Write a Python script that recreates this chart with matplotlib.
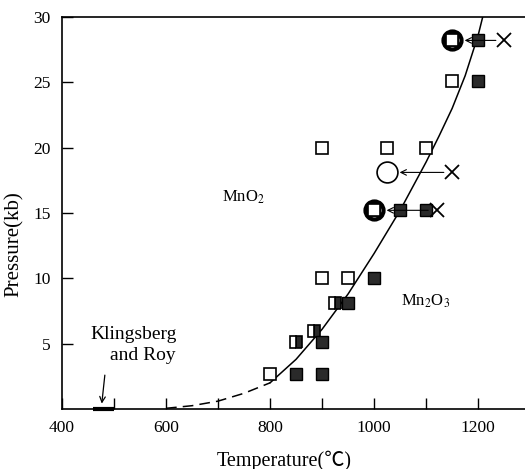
import matplotlib.pyplot as plt

plt.rcParams['font.family'] = ['Liberation Serif', 'Noto Sans CJK JP']

# phase boundary MnO2 / Mn2O3
curve_T = [600, 650, 700, 750, 800, 850, 900, 950, 1000, 1050, 1100, 1125,
           1150, 1175, 1200, 1210]
curve_P = [0.05, 0.25, 0.6, 1.2, 2.0, 3.8, 6.1, 8.8, 11.9, 15.2, 18.9, 20.9,
           23.0, 25.5, 28.6, 30.2]

# runs: MnO2 retained (open), Mn2O3 formed (filled), mixed (half)
open_T = [800, 900, 950, 900, 1025, 1100, 1150, 1150, 1000]
open_P = [2.7, 10.0, 10.0, 20.0, 20.0, 20.0, 25.1, 28.2, 15.2]
half_T = [850, 885, 925]
half_P = [5.1, 6.0, 8.1]
filled_T = [850, 900, 900, 950, 1000, 1050, 1100, 1200, 1200]
filled_P = [2.7, 2.7, 5.1, 8.1, 10.0, 15.2, 15.2, 25.1, 28.2]

# reversal runs: X -> circle
bold_T = [1150, 1000]
bold_P = [28.2, 15.2]
ring_T = [1025]
ring_P = [18.1]
x_T = [1250, 1150, 1120]
x_P = [28.2, 18.1, 15.2]
circ_T = [1150, 1025, 1000]
circ_P = [28.2, 18.1, 15.2]

# Klingsberg and Roy
kr_T = [460, 500]
kr_P = [0.0, 0.0]

fig = plt.figure(figsize=(5.25, 4.69), dpi=100)
ax = fig.add_axes([0.118, 0.128, 0.882, 0.836])

dark = '#2a2a2a'
lo = [p for t, p in zip(curve_T, curve_P) if t <= 800]
hi = [p for t, p in zip(curve_T, curve_P) if t >= 800]
ax.plot([t for t in curve_T if t <= 800], lo, color='k', lw=1.1, ls=(0, (7, 4)))
ax.plot([t for t in curve_T if t >= 800], hi, color='k', lw=1.1)
ax.plot(kr_T, kr_P, color='k', lw=3, solid_capstyle='butt', clip_on=False)

for t0, p0, t1, p1 in zip(x_T, x_P, circ_T, circ_P):
    ax.annotate('', xy=(t1, p1), xytext=(t0, p0),
                arrowprops=dict(arrowstyle='->', color='k', lw=0.8,
                                shrinkA=6, shrinkB=9))

ms = 8.5
ax.plot(open_T, open_P, 's', ms=ms, mfc='white', mec='k', mew=1.2, ls='none')
ax.plot(half_T, half_P, 's', ms=ms, fillstyle='right', mfc=dark,
        mfcalt='white', mec='k', mew=1.2, ls='none')
ax.plot(filled_T, filled_P, 's', ms=ms, mfc=dark, mec='k', mew=1.0, ls='none')
ax.plot(bold_T, bold_P, 'o', ms=13, mfc='none', mec='k', mew=3.0, ls='none')
ax.plot(bold_T, bold_P, 's', ms=8, mfc='white', mec='k', mew=1.2, ls='none')
ax.plot(ring_T, ring_P, 'o', ms=15, mfc='white', mec='k', mew=1.2, ls='none')
ax.plot(x_T, x_P, 'x', ms=9.5, mec='k', mew=1.3, ls='none')

ax.text(748, 16.2, 'MnO$_2$', fontsize=12, ha='center', va='center',
        math_fontfamily='stix')
ax.text(1100, 8.2, 'Mn$_2$O$_3$', fontsize=12, ha='center', va='center',
        math_fontfamily='stix')
ax.text(538, 5.7, 'Klingsberg', fontsize=14, ha='center', va='center')
ax.text(556, 4.1, 'and Roy', fontsize=14, ha='center', va='center')
ax.annotate('', xy=(476, 0.2), xytext=(483, 2.8),
            arrowprops=dict(arrowstyle='->', color='k', lw=0.9))

ax.set_xlim(400, 1290)
ax.set_ylim(0, 30)
ax.set_xticks([400, 600, 800, 1000, 1200])
ax.set_xticks([500, 700, 900, 1100], minor=True)
ax.set_yticks([5, 10, 15, 20, 25, 30])
ax.tick_params(which='both', direction='in', length=8, width=1,
               labelsize=12.5, pad=8)
ax.spines['right'].set_visible(False)
for s in ['left', 'bottom', 'top']:
    ax.spines[s].set_linewidth(1.2)

ax.set_xlabel('Temperature(℃)', fontsize=14.5)
ax.set_ylabel('Pressure(kb)', fontsize=15)
ax.xaxis.set_label_coords(0.48, -0.105)
ax.yaxis.set_label_coords(-0.082, 0.42)

fig.savefig('out.png', dpi=100)
